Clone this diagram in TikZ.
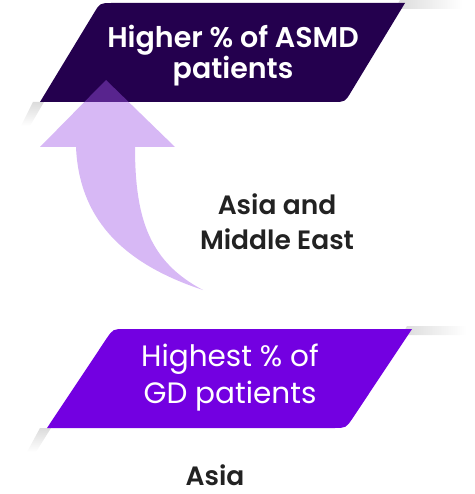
\documentclass[tikz,border=0pt]{standalone}
\usepackage{fontspec}
\setmainfont{Poppins}[BoldFont={* SemiBold}]
\definecolor{darkpurple}{RGB}{36,0,78}
\definecolor{vividpurple}{RGB}{115,0,225}
\definecolor{arrowpurple}{RGB}{160,86,231}
\definecolor{labelgray}{RGB}{34,34,34}
\tikzset{
  banner/.style={draw=none},
  bannertext/.style={text=white, align=center, inner sep=0pt},
  regiontext/.style={text=labelgray, align=center, inner sep=0pt, font=\bfseries\fontsize{26.5}{35}\selectfont},
  softshadow/.style={draw=none}
}
\begin{document}
\begin{tikzpicture}[x=1pt,y=-1pt]
\useasboundingbox (0,0) rectangle (474,494);
% shadows
\shade[softshadow, left color=black!14, right color=white] (400,0) -- (462,0) -- (462,9) -- (395,9) -- cycle;
\shade[softshadow, top color=black!14, bottom color=white] (33,102) -- (44,102) -- (30,126) -- (21,126) -- cycle;
\shade[softshadow, left color=black!14, right color=white] (407,326) -- (466,326) -- (466,335) -- (402,335) -- cycle;
\shade[softshadow, top color=black!14, bottom color=white] (40,428) -- (51,428) -- (36,452) -- (27,452) -- cycle;
% top banner
\fill[banner, darkpurple] (40,102) -- (93.8,13.3) .. controls (100,3) .. (112,3) -- (405,3) -- (351.2,91.7) .. controls (345,102) .. (333,102) -- cycle;
\node[bannertext, font=\bfseries\fontsize{28.5}{30}\selectfont] (top) at (233,56) {Higher \% of ASMD\\patients};
% bottom banner
\fill[banner, vividpurple] (47,428) -- (106.3,338.9) .. controls (113,329) .. (125,329) -- (412,329) -- (352.7,418.1) .. controls (346,428) .. (334,428) -- cycle;
\node[bannertext, font=\fontsize{29.5}{37}\selectfont] (bottom) at (230,378) {Highest \% of\\GD patients};
% arrow
\fill[arrowpurple, fill opacity=0.42] (106,80) -- (175,147) -- (135,147) .. controls (135,220) and (150,262) .. (203,290) .. controls (118,262) and (79,215) .. (76,147) -- (40,147) -- cycle;
% labels
\node[regiontext] (mid) at (277,222) {Asia and\\Middle East};
\node[regiontext] (asia) at (215,475) {Asia};
\end{tikzpicture}
\end{document}
